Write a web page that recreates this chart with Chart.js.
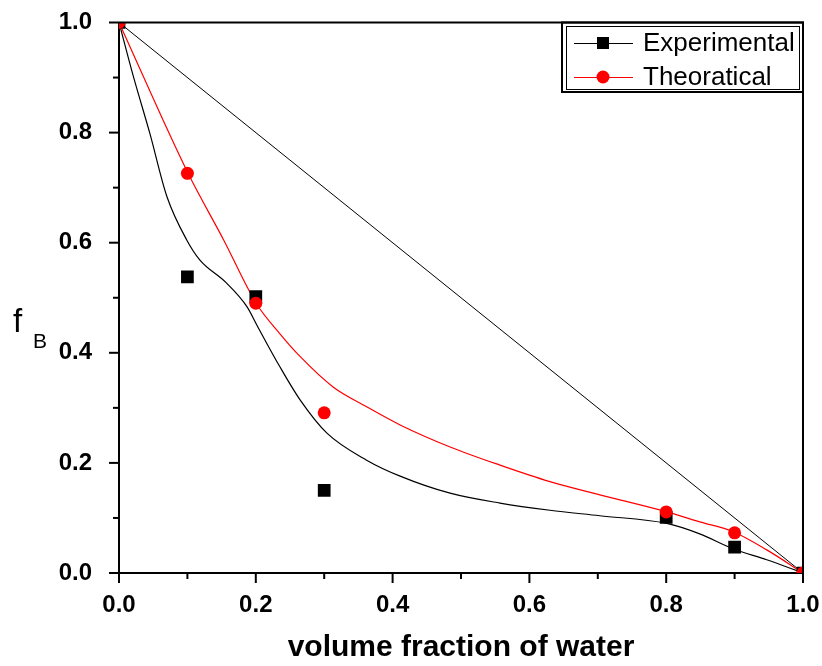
<!DOCTYPE html>
<html>
<head>
<meta charset="utf-8">
<script src="https://cdn.jsdelivr.net/npm/chart.js@4.4.1/dist/chart.umd.min.js"></script>
<style>
  html, body { margin: 0; padding: 0; background: #fff; }
  #wrap { width: 822px; height: 666px; }
</style>
</head>
<body>
<div id="wrap"><canvas id="chart" width="822" height="666"></canvas></div>
<script>
// measured points
const waterFraction = [0, 0.1, 0.2, 0.3, 0.8, 0.9, 1.0];
const experimental = [1, 0.538, 0.502, 0.150, 0.101, 0.047, 0];
const theoretical = [1, 0.726, 0.490, 0.291, 0.111, 0.073, 0];

// fitted curves
const expFitX = [0, 0.021, 0.045, 0.070, 0.099, 0.118, 0.157, 0.187, 0.203, 0.235, 0.265, 0.304, 0.362, 0.411, 0.484, 0.557, 0.630, 0.703, 0.801, 0.849, 0.898, 0.947, 1.0];
const expFitY = [1, 0.902, 0.799, 0.684, 0.605, 0.569, 0.527, 0.484, 0.447, 0.375, 0.314, 0.254, 0.205, 0.176, 0.145, 0.127, 0.114, 0.104, 0.090, 0.071, 0.044, 0.024, 0];
const theoFitX = [0, 0.101, 0.153, 0.201, 0.235, 0.265, 0.313, 0.362, 0.411, 0.484, 0.557, 0.630, 0.703, 0.801, 0.849, 0.898, 0.947, 1.0];
const theoFitY = [1, 0.726, 0.605, 0.489, 0.435, 0.393, 0.338, 0.302, 0.269, 0.229, 0.196, 0.166, 0.142, 0.111, 0.093, 0.075, 0.042, 0];
const diagX = [0, 1];
const diagY = [1, 0];

const legendItems = ['Experimental', 'Theoratical'];
const FONT = '"Liberation Sans", Arial, sans-serif';

const pts = (xs, ys) => xs.map((x, i) => ({ x: x, y: ys[i] }));

// ticks, frame, y title and legend box
const decorPlugin = {
    id: 'decor',
    afterDraw(chart) {
        const ctx = chart.ctx;
        const a = chart.chartArea;
        const xs = chart.scales.x, ys = chart.scales.y;
        ctx.save();
        ctx.strokeStyle = '#000';
        ctx.lineWidth = 2;
        // top and right frame
        ctx.beginPath();
        ctx.moveTo(a.left, a.top);
        ctx.lineTo(a.right, a.top);
        ctx.lineTo(a.right, a.bottom);
        ctx.stroke();
        // ticks
        for (let i = 0; i <= 10; i++) {
            const len = i % 2 === 0 ? 10 : 6;
            const px = xs.getPixelForValue(i / 10);
            ctx.beginPath();
            ctx.moveTo(px, a.bottom);
            ctx.lineTo(px, a.bottom + len);
            ctx.stroke();
            const py = ys.getPixelForValue(i / 10);
            ctx.beginPath();
            ctx.moveTo(a.left, py);
            ctx.lineTo(a.left - len, py);
            ctx.stroke();
        }
        // y title f_B
        ctx.fillStyle = '#000';
        ctx.textBaseline = 'alphabetic';
        ctx.textAlign = 'left';
        ctx.font = '33px ' + FONT;
        ctx.fillText('f', 13, 332);
        ctx.font = '21px ' + FONT;
        ctx.fillText('B', 33, 348);

        // legend
        ctx.lineWidth = 2;
        ctx.strokeRect(562, a.top, a.right - 562, 92 - a.top);
        ctx.lineWidth = 1;
        ctx.strokeRect(566.5, 26.5, 233, 63);
        const rows = [43, 77];
        const colors = ['#000', '#ff0000'];
        ctx.font = '26px ' + FONT;
        ctx.textBaseline = 'middle';
        rows.forEach((y, i) => {
            ctx.strokeStyle = colors[i];
            ctx.lineWidth = 1;
            ctx.beginPath();
            ctx.moveTo(574, y + 0.5);
            ctx.lineTo(633, y + 0.5);
            ctx.stroke();
            ctx.fillStyle = colors[i];
            if (i === 0) {
                ctx.fillRect(597, y - 6, 12, 12);
            } else {
                ctx.beginPath();
                ctx.arc(603, y, 6.5, 0, Math.PI * 2);
                ctx.fill();
            }
            ctx.fillStyle = '#000';
            ctx.fillText(legendItems[i], 643, y + 1);
        });
        ctx.restore();
    }
};

new Chart(document.getElementById('chart'), {
    type: 'scatter',
    data: {
        datasets: [
            {
                label: 'Experimental',
                data: pts(waterFraction, experimental),
                pointStyle: 'rect',
                pointRadius: 9,
                pointBackgroundColor: '#000',
                pointBorderWidth: 0,
                showLine: false,
                clip: 0,
                order: 2
            },
            {
                label: 'Theoratical',
                data: pts(waterFraction, theoretical),
                pointStyle: 'circle',
                pointRadius: 6.5,
                pointBackgroundColor: '#ff0000',
                pointBorderWidth: 0,
                showLine: false,
                clip: 0,
                order: 1
            },
            {
                data: pts(expFitX, expFitY),
                showLine: true,
                borderColor: '#000',
                borderWidth: 1.2,
                pointRadius: 0,
                cubicInterpolationMode: 'monotone',
                order: 4
            },
            {
                data: pts(theoFitX, theoFitY),
                showLine: true,
                borderColor: '#ff0000',
                borderWidth: 1.2,
                pointRadius: 0,
                cubicInterpolationMode: 'monotone',
                order: 3
            },
            {
                data: pts(diagX, diagY),
                showLine: true,
                borderColor: '#000',
                borderWidth: 1,
                pointRadius: 0,
                order: 5
            }
        ]
    },
    options: {
        responsive: false,
        animation: false,
        layout: { padding: { left: 0, right: 19, top: 22.5, bottom: 0 } },
        plugins: {
            legend: { display: false },
            tooltip: { enabled: false }
        },
        scales: {
            x: {
                type: 'linear',
                min: 0,
                max: 1,
                border: { display: true, color: '#000', width: 2 },
                grid: { display: false },
                ticks: {
                    stepSize: 0.1,
                    padding: 10,
                    color: '#000',
                    font: { family: FONT, size: 24, weight: 'bold' },
                    callback: v => Math.round(v * 10) % 2 === 0 ? v.toFixed(1) : ''
                },
                title: {
                    display: true,
                    text: 'volume fraction of water',
                    color: '#000',
                    font: { family: FONT, size: 30, weight: 'bold' },
                    padding: { top: 0, bottom: 0 }
                },
                afterFit: s => {
                    s.height = 93;
                    s.paddingLeft = 0;
                    s.paddingRight = 0;
                }
            },
            y: {
                type: 'linear',
                min: 0,
                max: 1,
                border: { display: true, color: '#000', width: 2 },
                grid: { display: false },
                ticks: {
                    stepSize: 0.1,
                    padding: 19,
                    color: '#000',
                    font: { family: FONT, size: 24, weight: 'bold' },
                    callback: v => Math.round(v * 10) % 2 === 0 ? v.toFixed(1) : ''
                },
                afterFit: s => {
                    s.width = 119;
                    s.paddingTop = 0;
                    s.paddingBottom = 0;
                }
            }
        }
    },
    plugins: [decorPlugin]
});
</script>
</body>
</html>
